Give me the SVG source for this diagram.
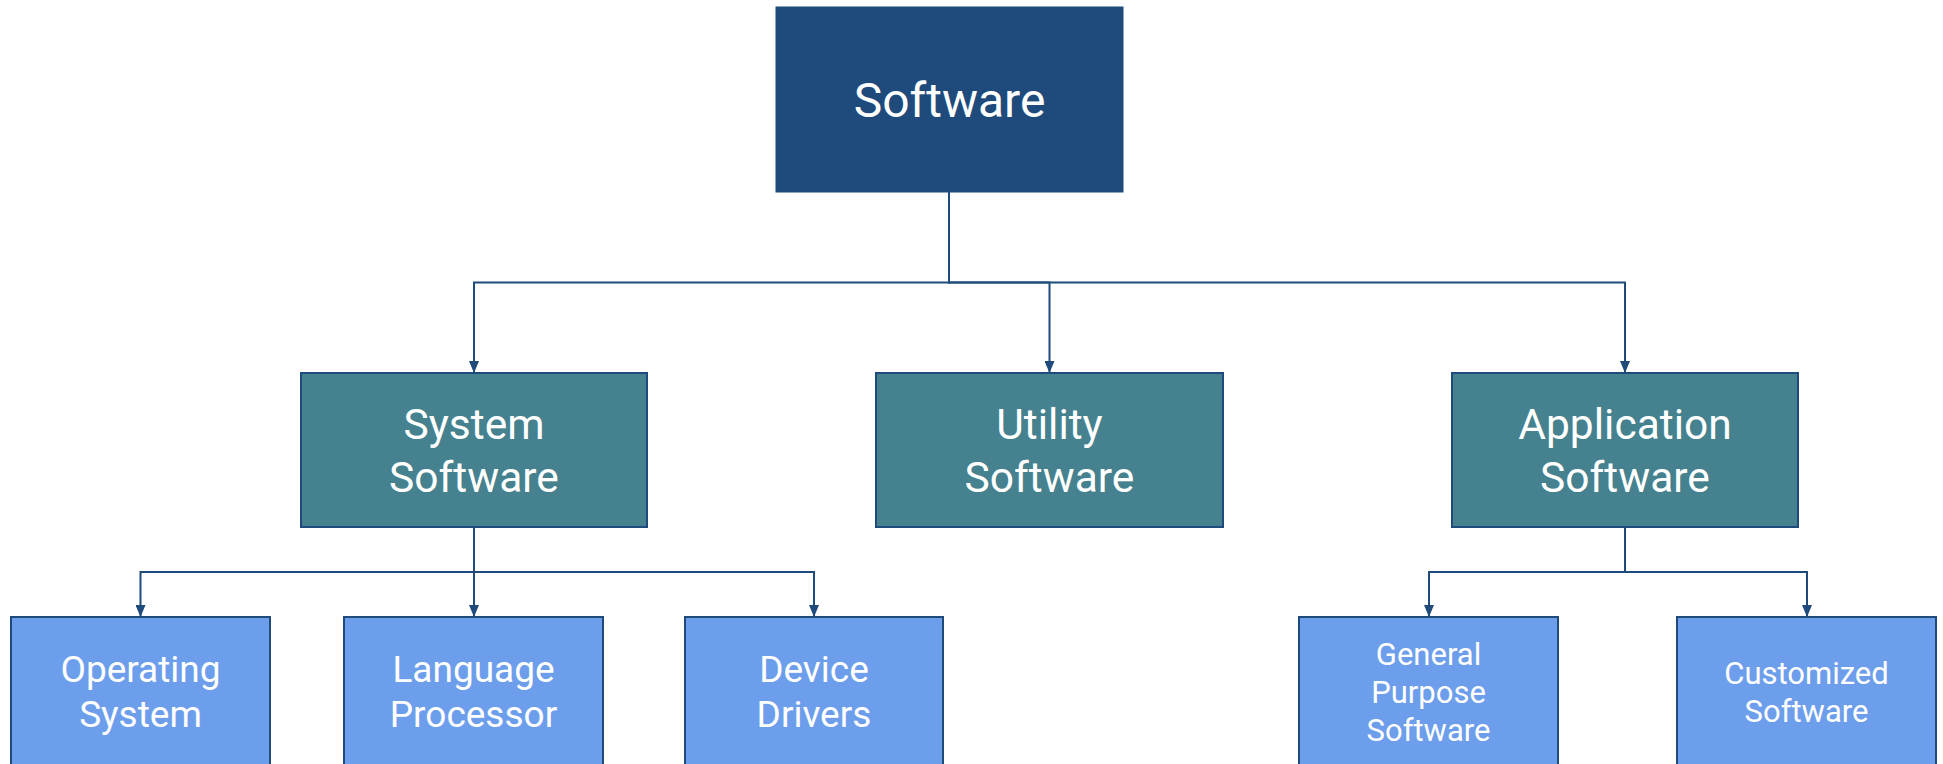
<svg xmlns="http://www.w3.org/2000/svg" width="1943" height="764" viewBox="0 0 1943 764">
  <style>
    .lbl { font-family: Roboto, "Liberation Sans", sans-serif; fill: #ffffff; text-anchor: middle; }
    .l1 { font-size: 48px; }
    .l2 { font-size: 42.5px; }
    .l3 { font-size: 37px; }
    .l4 { font-size: 31px; }
    .root { fill: #1f4a7c; stroke: #1f4a7c; stroke-width: 1; }
    .mid { fill: #45818e; stroke: #1f4a7c; stroke-width: 2; }
    .leaf { fill: #6d9eeb; stroke: #1f4a7c; stroke-width: 2; }
    .conn { fill: none; stroke: #1f4a7c; stroke-width: 2; marker-end: url(#arrow); }
  </style>
  <defs>
    <marker id="arrow" viewBox="0 0 12 10" refX="12" refY="5" markerWidth="12" markerHeight="10" markerUnits="userSpaceOnUse" orient="auto">
      <path d="M0,0 L12,5 L0,10 z" fill="#1f4a7c"/>
    </marker>
  </defs>
  <rect width="1943" height="764" fill="#ffffff"/>

  <g id="connectors">
    <path class="conn" d="M949,192 V282.5 H474 V373"/>
    <path class="conn" d="M949,192 V282.5 H1049.5 V373"/>
    <path class="conn" d="M949,192 V282.5 H1625 V373"/>
    <path class="conn" d="M474,527 V572 H140.5 V617"/>
    <path class="conn" d="M474,527 V617"/>
    <path class="conn" d="M474,527 V572 H814 V617"/>
    <path class="conn" d="M1625,527 V572 H1429 V617"/>
    <path class="conn" d="M1625,527 V572 H1807 V617"/>
  </g>

  <g id="node-software">
    <rect class="root" x="776" y="7" width="347" height="185"/>
    <text class="lbl l1" x="949.5" y="117">Software</text>
  </g>

  <g id="node-system-software">
    <rect class="mid" x="301" y="373" width="346" height="154"/>
    <text class="lbl l2" x="474" y="439">System</text>
    <text class="lbl l2" x="474" y="491.5">Software</text>
  </g>

  <g id="node-utility-software">
    <rect class="mid" x="876" y="373" width="347" height="154"/>
    <text class="lbl l2" x="1049.5" y="439">Utility</text>
    <text class="lbl l2" x="1049.5" y="491.5">Software</text>
  </g>

  <g id="node-application-software">
    <rect class="mid" x="1452" y="373" width="346" height="154"/>
    <text class="lbl l2" x="1625" y="439">Application</text>
    <text class="lbl l2" x="1625" y="491.5">Software</text>
  </g>

  <g id="node-operating-system">
    <rect class="leaf" x="11" y="617" width="259" height="150"/>
    <text class="lbl l3" x="140.5" y="682">Operating</text>
    <text class="lbl l3" x="140.5" y="727">System</text>
  </g>

  <g id="node-language-processor">
    <rect class="leaf" x="344" y="617" width="259" height="150"/>
    <text class="lbl l3" x="473.5" y="682">Language</text>
    <text class="lbl l3" x="473.5" y="727">Processor</text>
  </g>

  <g id="node-device-drivers">
    <rect class="leaf" x="685" y="617" width="258" height="150"/>
    <text class="lbl l3" x="814" y="682">Device</text>
    <text class="lbl l3" x="814" y="727">Drivers</text>
  </g>

  <g id="node-general-purpose-software">
    <rect class="leaf" x="1299" y="617" width="259" height="150"/>
    <text class="lbl l4" x="1428.5" y="665">General</text>
    <text class="lbl l4" x="1428.5" y="703">Purpose</text>
    <text class="lbl l4" x="1428.5" y="741">Software</text>
  </g>

  <g id="node-customized-software">
    <rect class="leaf" x="1677" y="617" width="259" height="150"/>
    <text class="lbl l4" x="1806.5" y="683.5">Customized</text>
    <text class="lbl l4" x="1806.5" y="721.5">Software</text>
  </g>
</svg>
